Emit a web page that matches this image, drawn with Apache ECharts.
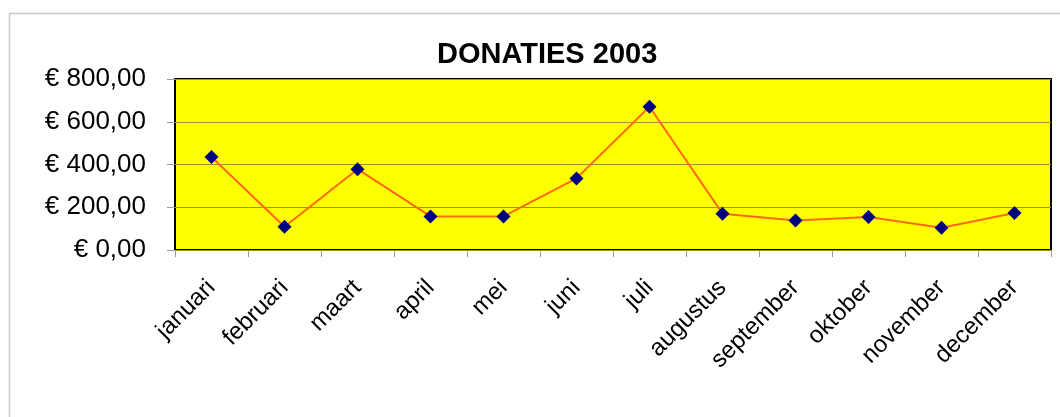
<!DOCTYPE html>
<html>
<head>
<meta charset="utf-8">
<script src="https://cdn.jsdelivr.net/npm/echarts@6/dist/echarts.min.js"></script>
<style>
  html, body { margin: 0; padding: 0; background: #fff; }
  #chart { width: 1060px; height: 417px; }
</style>
</head>
<body>
<div id="chart"></div>
<script>
var maanden = ['januari', 'februari', 'maart', 'april', 'mei', 'juni', 'juli',
  'augustus', 'september', 'oktober', 'november', 'december'];
var donaties = [435, 109, 378, 157, 157, 335, 670, 170, 138, 154, 104, 173];

var myChart = echarts.init(document.getElementById('chart'));

function euro(v) {
  return '€ ' + v.toFixed(2).replace('.', ',');
}

var option = {
  animation: false,
  graphic: [
    {
      type: 'rect',
      shape: { x: 9.5, y: 13.5, width: 1060, height: 420 },
      style: { fill: 'none', stroke: '#c8c8c8', lineWidth: 1.5 },
      z: -1
    }
  ],
  title: {
    text: 'DONATIES 2003',
    left: 432,
    top: 35,
    textStyle: { fontFamily: 'Liberation Sans', fontWeight: 'bold', fontSize: 29, color: '#000' }
  },
  grid: {
    left: 175, top: 79, right: 9, bottom: 167,
    show: true,
    backgroundColor: '#ffff00',
    borderColor: '#000',
    borderWidth: 2
  },
  xAxis: {
    type: 'category',
    data: maanden,
    boundaryGap: true,
    axisLine: { show: false },
    axisTick: { show: true, length: 7, lineStyle: { color: '#999' } },
    axisLabel: {
      rotate: 45,
      margin: 34,
      fontFamily: 'Liberation Sans',
      fontSize: 24,
      color: '#000'
    }
  },
  yAxis: {
    type: 'value',
    min: 0,
    max: 800,
    interval: 200,
    axisLine: { show: false },
    axisTick: { show: true, length: 8, lineStyle: { color: '#999' } },
    splitLine: { lineStyle: { color: '#9a9a1a', width: 1 } },
    axisLabel: {
      formatter: euro,
      margin: 29,
      fontFamily: 'Liberation Sans',
      fontSize: 26,
      color: '#000'
    }
  },
  series: [
    {
      type: 'line',
      data: donaties,
      symbol: 'diamond',
      symbolSize: 14,
      itemStyle: { color: '#000080' },
      lineStyle: { color: '#ff6a10', width: 2 }
    }
  ]
};

myChart.setOption(option);
</script>
</body>
</html>
